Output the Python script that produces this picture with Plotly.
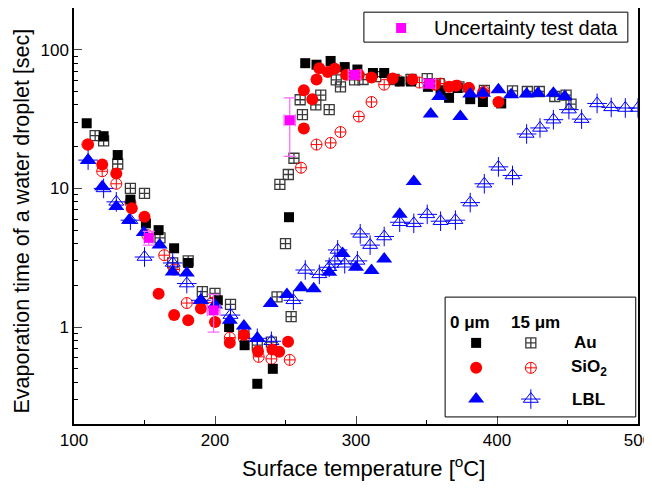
import plotly.graph_objects as go
import numpy as np

# ---------------- data ----------------
au0_x = [109, 121, 131, 140, 151, 160, 171, 181, 202, 210, 221, 230, 241, 252.5, 264, 272, 282, 292, 301, 312, 320, 331, 339, 351, 360, 366, 372, 381, 390, 403]
au0_y = [29.5, 23.8, 17.4, 8.3, 5.6, 5.0, 3.7, 2.9, 1.56, 1.0, 0.74, 0.39, 0.5, 6.2, 80, 78, 83, 75, 72, 68, 68, 59, 59, 54, 51, 45, 53, 44, 42, 41]

au15_x = [115, 121, 131, 140, 150, 161, 170, 181, 191, 200, 211, 220.5, 230, 240, 244, 246, 250, 252, 254, 256, 260.4, 262, 271.5, 275, 281, 286, 289, 299, 305, 314, 327, 339, 350.5, 359, 373, 391, 411, 421.5, 430, 441, 449, 452.5]
au15_y = [24, 22, 15, 10, 9.2, 4.4, 2.9, 3.0, 1.8, 1.75, 1.46, 0.9, 0.74, 0.78, 1.65, 10.7, 4.0, 12.6, 1.19, 16.5, 43.6, 34, 40, 47, 37, 60.6, 54, 60.6, 61, 64, 61, 61, 62, 57, 54, 51, 50.5, 50, 50, 46, 47, 40.5]

si0_x = [110, 120, 130, 141, 150, 160, 171, 181, 190, 200, 210.5, 220.5, 230.5, 240.7, 245.5, 251.8, 263, 263, 269, 272, 274, 280, 285, 293, 302, 311, 326, 340, 356, 366, 371, 380, 390, 401]
si0_y = [20.7, 14.9, 12.8, 7.2, 6.25, 1.74, 1.22, 1.12, 1.36, 1.09, 0.77, 0.88, 0.67, 0.69, 0.665, 0.785, 27, 51, 44, 61, 73.5, 69, 73, 66, 66, 63, 62, 61, 56, 54, 55, 53, 49, 42]

si15_x = [109.5, 120, 130, 140, 152, 164, 171, 180, 198, 210.5, 220.5, 231, 240, 253, 261, 272, 282, 289, 302, 311, 320, 330, 345, 360, 372, 380, 391]
si15_y = [20.7, 13.3, 10.8, 7.9, 4.6, 3.3, 2.6, 1.49, 1.5, 0.84, 0.83, 0.61, 0.59, 0.58, 14.1, 20.7, 21.3, 25.5, 33, 42, 56, 60, 58, 57, 55, 53, 50]

lbl0_x = [110, 120, 130, 139, 149.5, 160.7, 170, 180, 190, 200, 210.5, 220.5, 230, 239.5, 251, 261, 270, 281, 290.5, 300, 311, 320, 331, 341, 353, 359, 374, 381, 390, 401, 410, 421, 429, 440, 448]
lbl0_y = [15.9, 10.3, 7.4, 5.9, 4.8, 3.9, 2.5, 2.45, 1.56, 1.44, 1.12, 1.02, 0.83, 1.48, 1.72, 1.92, 1.89, 2.49, 3.4, 2.7, 2.56, 3.1, 6.5, 11.2, 34.4, 46, 33, 48, 48.6, 51.4, 47.3, 48, 48.6, 48.6, 46]

lbl15_x = [110, 121, 130, 140, 150, 170, 180, 190, 211, 230, 240, 255.6, 264, 274, 281, 285, 287, 292, 301, 303, 310, 320, 331, 341, 350.5, 360, 370.5, 381, 391, 401, 411, 421, 430.5, 440, 451, 460, 471, 481, 491, 500]
lbl15_y = [16, 10, 8.0, 5.9, 3.2, 2.9, 2.06, 1.56, 1.22, 0.83, 0.79, 1.56, 2.58, 2.4, 2.7, 3.0, 3.6, 2.86, 3.0, 4.7, 3.9, 4.5, 5.7, 5.6, 6.5, 5.8, 5.9, 7.9, 10.8, 14.3, 12.4, 24.7, 27.3, 31.3, 37, 31.6, 41, 38.4, 38, 38]

unc_x = [153, 199, 253, 299, 352]
unc_y = [4.4, 1.32, 31, 66, 57]
unc_yerr = [0.5, 0.4, 14, 4, 4]
unc_xerr = [3, 4.5, 4, 4.5, 4.5]

x_ticks = [100, 200, 300, 400, 500]
y_ticks = [1, 10, 100]
y_minor = [0.2, 0.3, 0.4, 0.5, 0.6, 0.7, 0.8, 0.9, 2, 3, 4, 5, 6, 7, 8, 9,
           20, 30, 40, 50, 60, 70, 80, 90, 200]

FONT = "Arial, Liberation Sans, sans-serif"
BLUE = "#0000ff"
RED = "#ff0000"
MAG = "#ff00ff"
GRAY = "#3a3a3a"

fig = go.Figure()

def tri_cross(x, y, size, color, xa="x", ya="y"):
    fig.add_trace(go.Scatter(x=x, y=y, mode="markers", xaxis=xa, yaxis=ya,
                             marker=dict(symbol="triangle-up-open", size=size, color=color,
                                         line=dict(width=1, color=color)), showlegend=False))
    fig.add_trace(go.Scatter(x=x, y=y, mode="markers", xaxis=xa, yaxis=ya,
                             marker=dict(symbol="cross-thin-open", size=size + 1, color=color,
                                         line=dict(width=1, color=color)), showlegend=False))

# hollow (15 um)
fig.add_trace(go.Scatter(x=au15_x, y=au15_y, mode="markers", showlegend=False,
                         marker=dict(symbol="square-cross-open", size=10, color=GRAY,
                                     line=dict(width=1.3, color=GRAY))))
fig.add_trace(go.Scatter(x=si15_x, y=si15_y, mode="markers", showlegend=False,
                         marker=dict(symbol="circle-cross-open", size=11, color=RED,
                                     line=dict(width=1, color=RED))))
tri_cross(lbl15_x, lbl15_y, 13, BLUE)

# filled (0 um)
fig.add_trace(go.Scatter(x=au0_x, y=au0_y, mode="markers", showlegend=False,
                         marker=dict(symbol="square", size=10, color="black", line=dict(width=0))))
fig.add_trace(go.Scatter(x=si0_x, y=si0_y, mode="markers", showlegend=False,
                         marker=dict(symbol="circle", size=12, color=RED, line=dict(width=0))))
fig.add_trace(go.Scatter(x=lbl0_x, y=lbl0_y, mode="markers", showlegend=False,
                         marker=dict(symbol="triangle-up", size=14, color=BLUE, line=dict(width=0))))

# uncertainty
fig.add_trace(go.Scatter(x=unc_x, y=unc_y, mode="markers", showlegend=False,
                         marker=dict(symbol="square", size=10, color=MAG),
                         error_y=dict(type="data", array=unc_yerr, color="#ff66ff", thickness=1.2, width=6),
                         error_x=dict(type="data", array=unc_xerr, color="#ff66ff", thickness=1.2, width=6)))

# ---- legend items drawn on an overlay axis (fractions of the plot area) ----
leg_fx = [0.713, 0.810]
leg_fy = [0.195, 0.135, 0.060]
fig.add_trace(go.Scatter(x=[leg_fx[0]], y=[leg_fy[0]], xaxis="x2", yaxis="y2", mode="markers", showlegend=False,
                         marker=dict(symbol="square", size=10, color="black")))
fig.add_trace(go.Scatter(x=[leg_fx[1]], y=[leg_fy[0]], xaxis="x2", yaxis="y2", mode="markers", showlegend=False,
                         marker=dict(symbol="square-cross-open", size=10, color=GRAY, line=dict(width=1.3))))
fig.add_trace(go.Scatter(x=[leg_fx[0]], y=[leg_fy[1]], xaxis="x2", yaxis="y2", mode="markers", showlegend=False,
                         marker=dict(symbol="circle", size=12, color=RED)))
fig.add_trace(go.Scatter(x=[leg_fx[1]], y=[leg_fy[1]], xaxis="x2", yaxis="y2", mode="markers", showlegend=False,
                         marker=dict(symbol="circle-cross-open", size=11, color=RED, line=dict(width=1))))
fig.add_trace(go.Scatter(x=[leg_fx[0]], y=[leg_fy[2]], xaxis="x2", yaxis="y2", mode="markers", showlegend=False,
                         marker=dict(symbol="triangle-up", size=14, color=BLUE)))
tri_cross([leg_fx[1]], [leg_fy[2]], 13, BLUE, "x2", "y2")
fig.add_trace(go.Scatter(x=[0.58], y=[0.952], xaxis="x2", yaxis="y2", mode="markers", showlegend=False,
                         marker=dict(symbol="square", size=10, color=MAG)))

shapes = [
    dict(type="rect", xref="paper", yref="paper", x0=0.658, x1=0.996, y0=0.017, y1=0.305,
         line=dict(color="black", width=1), fillcolor="rgba(0,0,0,0)"),
    dict(type="rect", xref="paper", yref="paper", x0=0.514, x1=0.982, y0=0.918, y1=0.990,
         line=dict(color="black", width=1), fillcolor="white", layer="below"),
]

annos = [
    dict(x=0.703, y=0.243, text="<b>0 μm</b>", font=dict(size=17)),
    dict(x=0.818, y=0.243, text="<b>15 μm</b>", font=dict(size=17)),
    dict(x=0.907, y=leg_fy[0], text="<b>Au</b>", font=dict(size=17)),
    dict(x=0.913, y=leg_fy[1], text="<b>SiO<sub>2</sub></b>", font=dict(size=17)),
    dict(x=0.913, y=leg_fy[2], text="<b>LBL</b>", font=dict(size=17)),
    dict(x=0.635, y=0.952, text="Uncertainty test data", xanchor="left", font=dict(size=20)),
    dict(x=0.513, y=-0.103, text="Surface temperature [<sup>o</sup>C]", font=dict(size=22)),
    dict(x=-0.092, y=0.487, text="Evaporation time of a water droplet [sec]", textangle=-90, font=dict(size=21.5)),
]
for a in annos:
    a.setdefault("xanchor", "center")
    a.update(xref="paper", yref="paper", showarrow=False, yanchor="middle")

# page has an 8px body margin, so the figure is sized/offset to compensate
fig.update_layout(
    width=644, height=482,
    margin=dict(l=66, r=14, t=0, b=66),
    paper_bgcolor="white", plot_bgcolor="white",
    font=dict(family=FONT, color="black", size=17),
    shapes=shapes, annotations=annos,
    xaxis=dict(range=[100, 500], tickvals=x_ticks, ticks="inside", ticklen=8, tickwidth=1.2,
               showline=True, linecolor="black", linewidth=1.5, mirror=True, showgrid=False, zeroline=False,
               tickfont=dict(size=17), automargin=False, ticklabeloverflow="allow",
               minor=dict(tickvals=[150, 250, 350, 450], ticks="inside", ticklen=4, tickcolor="black")),
    yaxis=dict(type="log", range=[np.log10(0.2), np.log10(200)], tickvals=y_ticks, ticktext=["1", "10", "100"],
               ticks="inside", ticklen=8, tickwidth=1.2,
               showline=True, linecolor="black", linewidth=1.5, mirror=True, showgrid=False, zeroline=False,
               tickfont=dict(size=17), automargin=False,
               minor=dict(tickvals=y_minor, ticks="inside", ticklen=4, tickcolor="black")),
    xaxis2=dict(overlaying="x", range=[0, 1], visible=False, automargin=False),
    yaxis2=dict(overlaying="y", range=[0, 1], visible=False, automargin=False),
)

fig.write_html("out.html")
